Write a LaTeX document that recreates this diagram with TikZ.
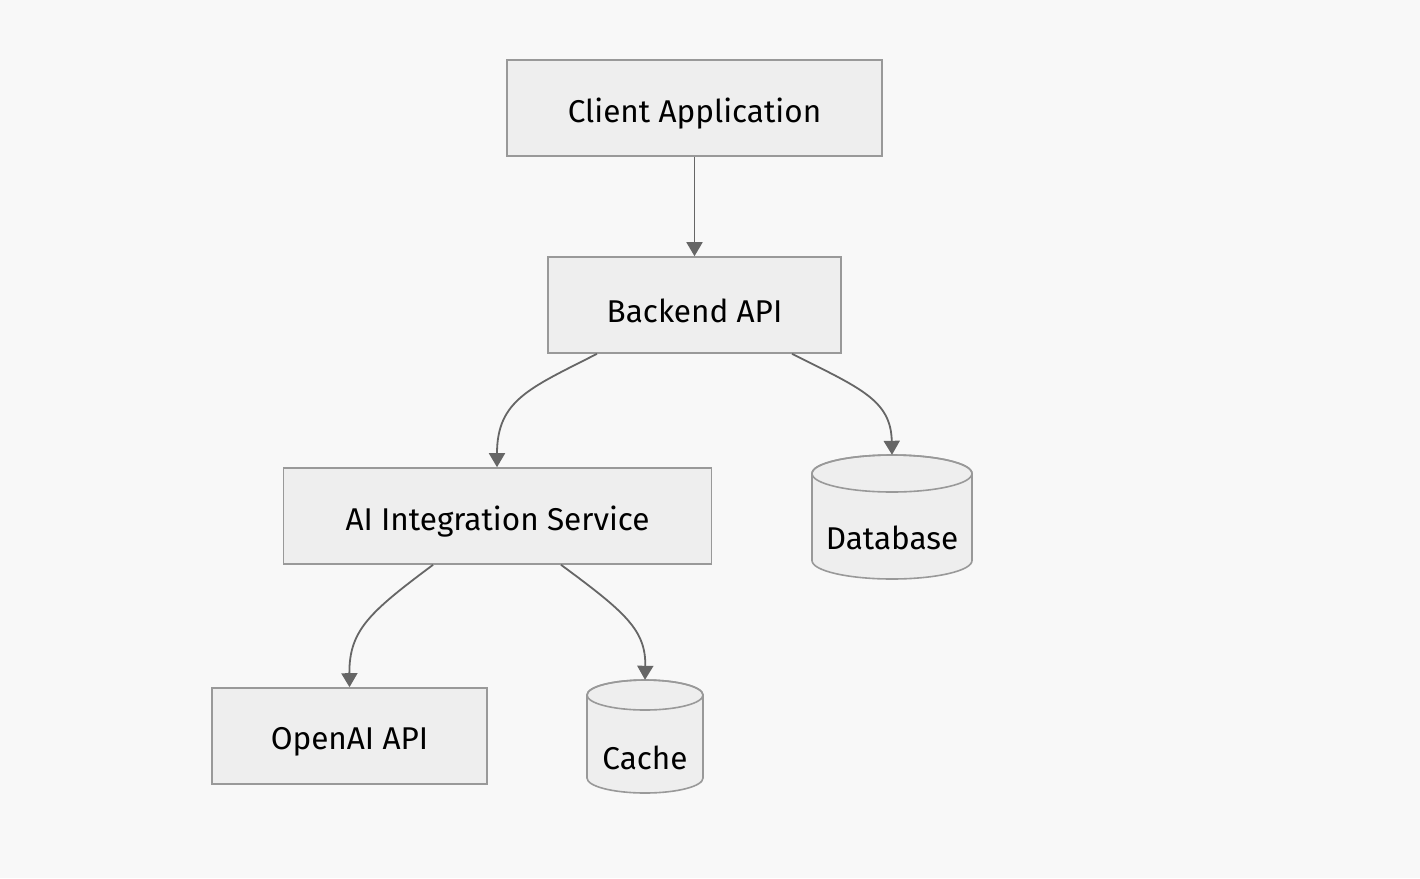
\documentclass[tikz,border=0pt]{standalone}
\usepackage{fontspec}
\setmainfont{Fira Sans}
\usetikzlibrary{arrows.meta}
\definecolor{bg}{HTML}{F8F8F8}
\definecolor{boxfill}{HTML}{EEEEEE}
\definecolor{boxline}{HTML}{999999}
\definecolor{edge}{HTML}{666666}
\newcommand{\lowertext}[1]{\raisebox{-6pt}[\height][\depth]{#1}}
\begin{document}
\begin{tikzpicture}[x=1pt,y=-1pt,
  box/.style={draw=boxline,fill=boxfill,line width=1.6pt,inner sep=0pt,
    font=\fontsize{31.5}{34}\selectfont,text=black},
  cyltext/.style={inner sep=0pt,font=\fontsize{31.5}{34}\selectfont,text=black},
  cylshape/.style={draw=boxline,fill=boxfill,line width=1.6pt},
  conn/.style={draw=edge,line width=1.8pt,-{Triangle[width=16pt,length=14pt]}}]
\fill[bg] (0,0) rectangle (1420,878);
\useasboundingbox (0,0) rectangle (1420,878);
% boxes
\node[box,minimum width=375pt,minimum height=96pt] (client) at (694.5,108) {\lowertext{Client Application}};
\node[box,minimum width=293pt,minimum height=96pt] (backend) at (694.5,305) {\lowertext{Backend API}};
\node[box,minimum width=428pt,minimum height=96pt] (ai) at (497.5,516) {\lowertext{AI Integration Service}};
\node[box,minimum width=275pt,minimum height=96pt] (openai) at (349.5,736) {\lowertext{OpenAI API}};
% database cylinder (center x 892, rx 80, ry 18.5, top cy 473.5, bottom cy 560.5)
\path[cylshape] (812,473.5) -- (812,560.5) arc[start angle=180,end angle=0,x radius=80,y radius=18.5]
  -- (972,473.5) arc[start angle=0,end angle=-180,x radius=80,y radius=18.5] -- cycle;
\draw[boxline,line width=1.6pt] (892,473.5) ellipse[x radius=80,y radius=18.5];
\node[minimum width=160pt,minimum height=124pt,inner sep=0pt] (dbshape) at (892,517) {};
\node[cyltext] (db) at (892,538) {Database};
% cache cylinder (center x 645, rx 58, ry 15, top cy 695, bottom cy 778)
\path[cylshape] (587,695) -- (587,778) arc[start angle=180,end angle=0,x radius=58,y radius=15]
  -- (703,695) arc[start angle=0,end angle=-180,x radius=58,y radius=15] -- cycle;
\draw[boxline,line width=1.6pt] (645,695) ellipse[x radius=58,y radius=15];
\node[minimum width=116pt,minimum height=113pt,inner sep=0pt] (cacheshape) at (645,736.5) {};
\node[cyltext] (cache) at (645,758) {Cache};
% connectors
\coordinate (b1) at ([xshift=-97.5pt]backend.south);
\coordinate (b2) at ([xshift=97.5pt]backend.south);
\coordinate (a1) at ([xshift=-64.5pt]ai.south);
\coordinate (a2) at ([xshift=63.5pt]ai.south);
\draw[conn] (client.south) -- (backend.north);
\draw[conn] (b1) .. controls (530,388) and (497,400) .. ([xshift=-0.5pt]ai.north);
\draw[conn] (b2) .. controls (860,388) and (891,400) .. (dbshape.north);
\draw[conn] (a1) .. controls (370,612) and (349,630) .. (openai.north);
\draw[conn] (a2) .. controls (625,612) and (646,630) .. (cacheshape.north);
\end{tikzpicture}
\end{document}
